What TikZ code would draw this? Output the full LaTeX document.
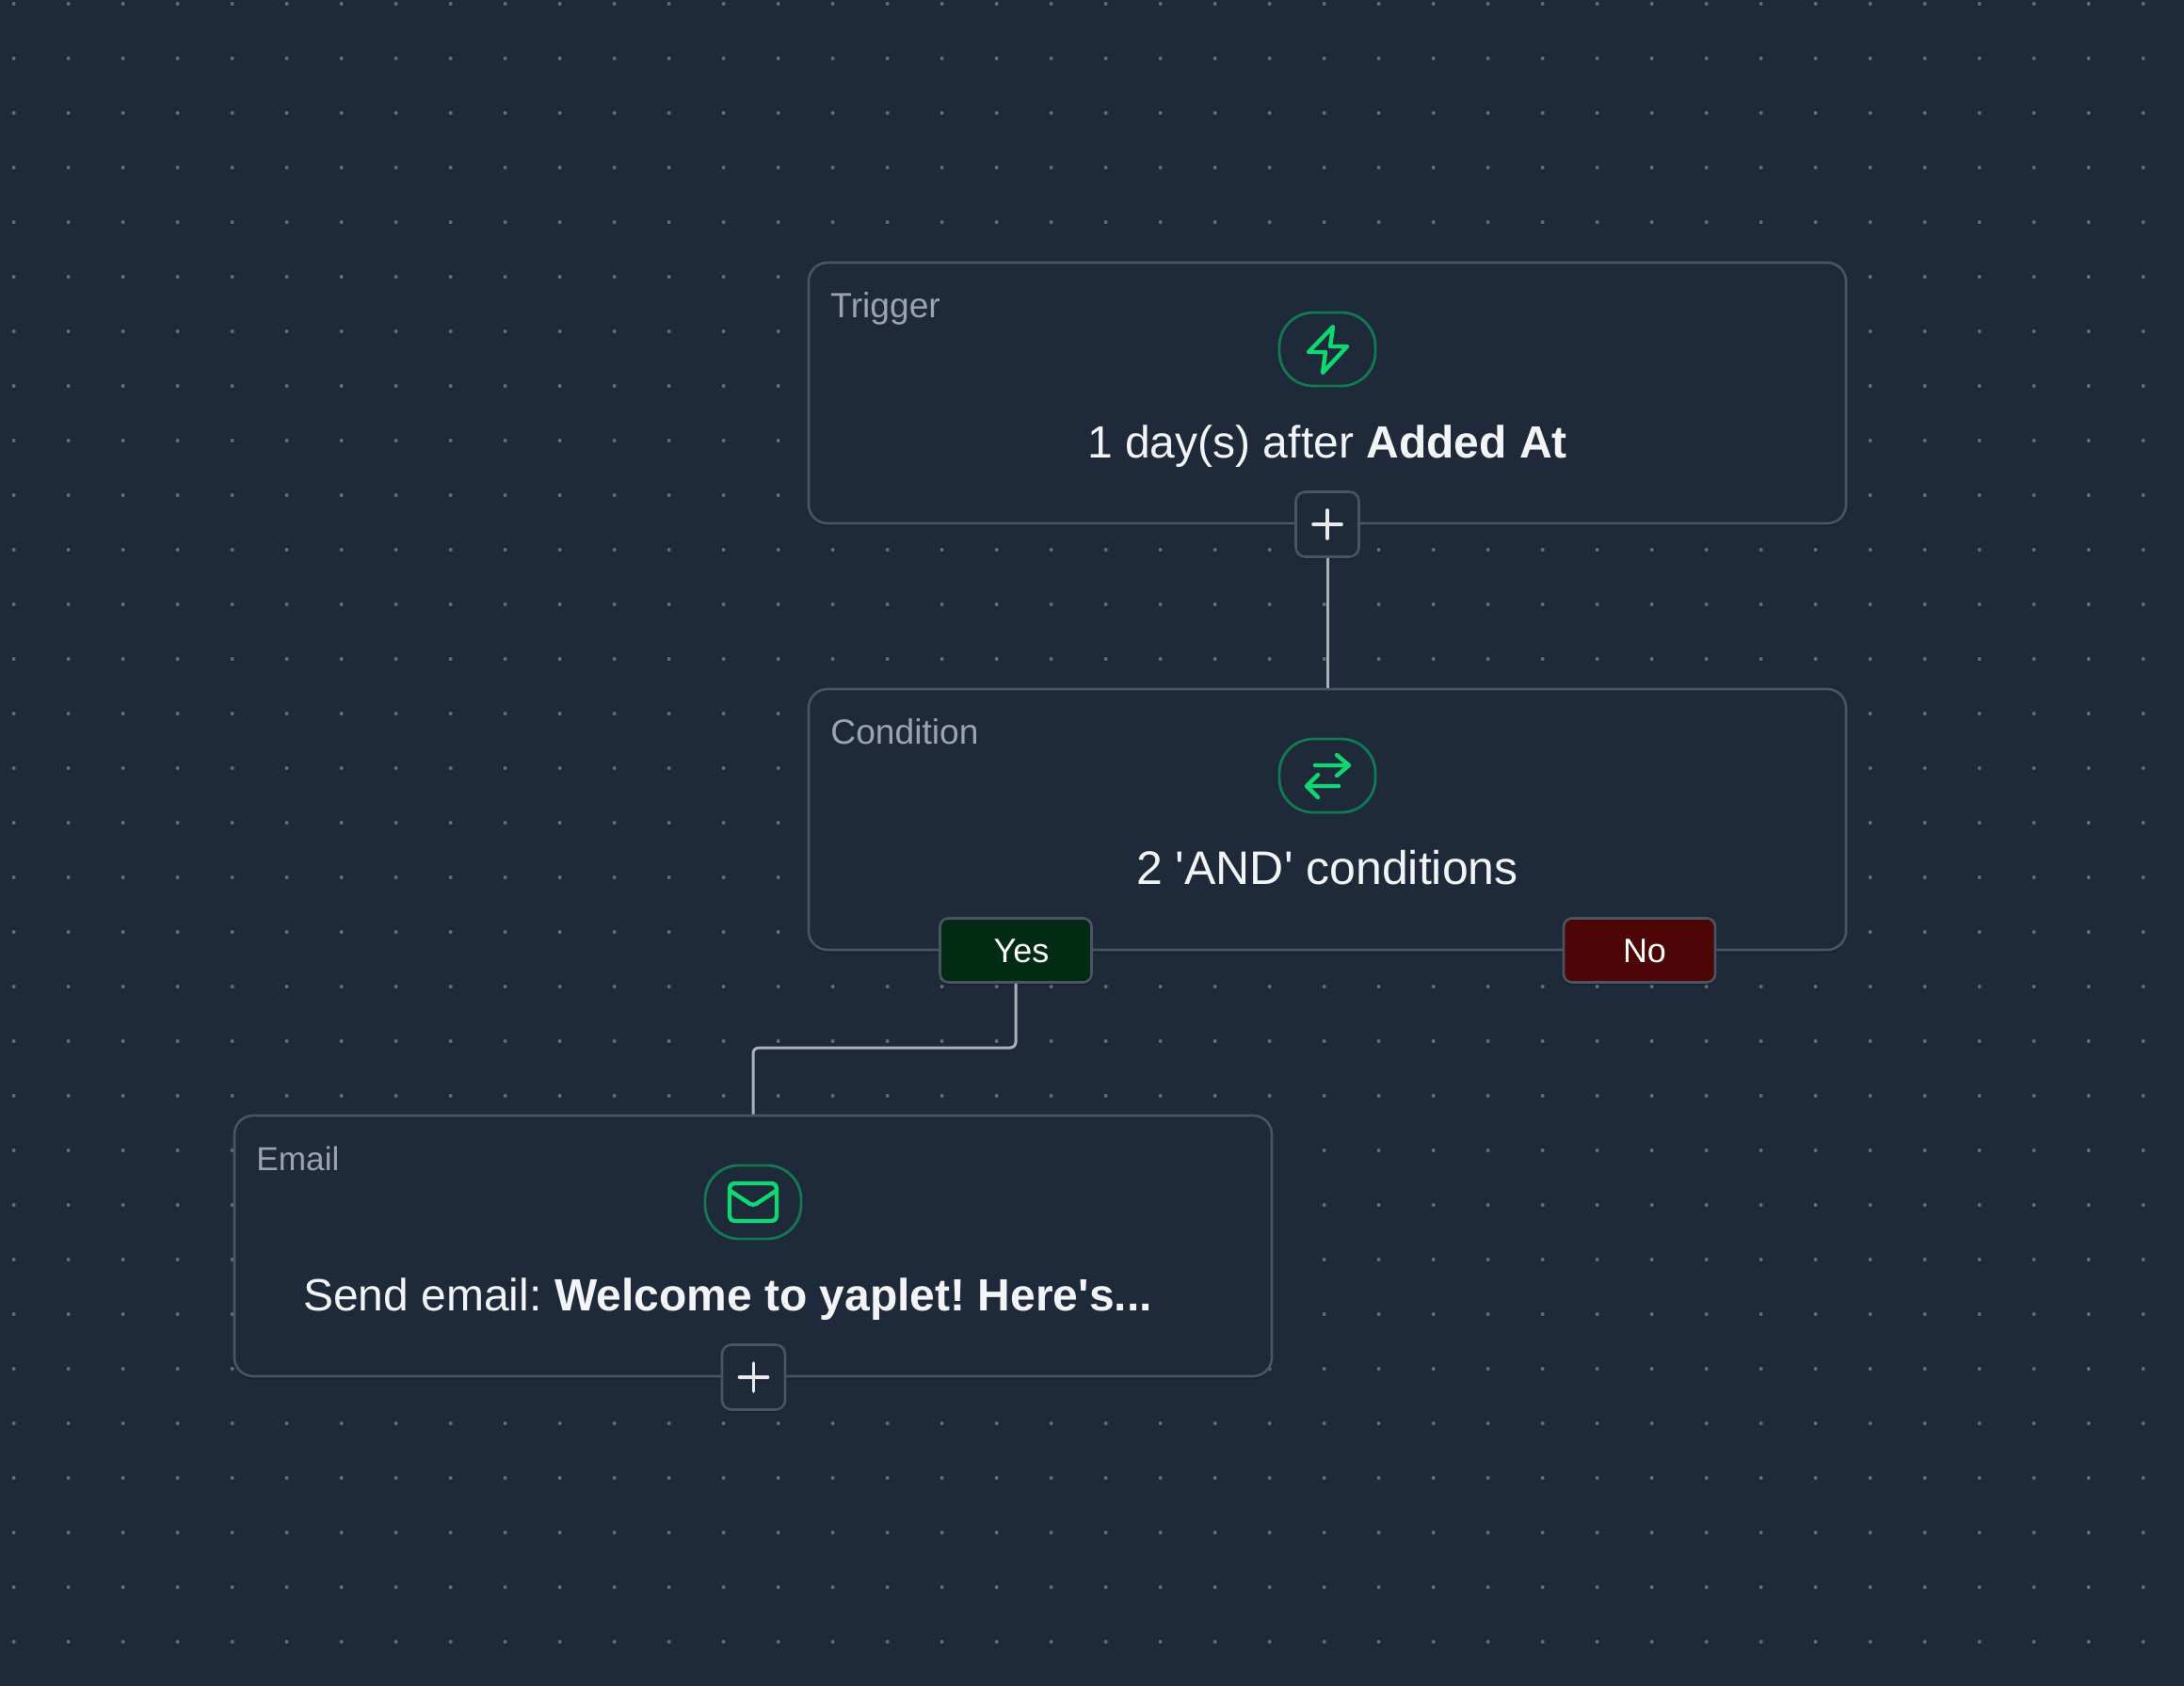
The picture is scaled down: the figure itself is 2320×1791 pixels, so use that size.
\documentclass[tikz,border=0pt]{standalone}
\usepackage{fontspec}
\usetikzlibrary{shadows}
\setmainfont{Liberation Sans}[Ligatures=TeXOff]
\definecolor{bgc}{HTML}{1E2939}
\definecolor{edgec}{HTML}{4A5462}
\definecolor{dotc}{HTML}{666C77}
\definecolor{wirec}{HTML}{ACB0B7}
\definecolor{labc}{HTML}{9CA3AF}
\definecolor{txtc}{HTML}{F3F4F6}
\definecolor{pillc}{HTML}{127A50}
\definecolor{iconc}{HTML}{0DD871}
\definecolor{yesc}{HTML}{032A12}
\definecolor{noc}{HTML}{4D0505}
\tikzset{
  x=0.5pt,y=-0.5pt,
  softshadow/.style={drop shadow={shadow xshift=0pt,shadow yshift=-1.5pt,opacity=0.18,fill=black}},
  card/.style={draw=edgec,fill=bgc,line width=1.3pt,rounded corners=10pt,minimum width=551pt,minimum height=138.5pt,inner sep=0pt,softshadow},
  pill/.style={draw=pillc,fill=bgc,line width=1.4pt,rounded corners=18pt,minimum width=51pt,minimum height=39pt,inner sep=0pt},
  plusbox/.style={draw=edgec,fill=bgc,line width=1.3pt,rounded corners=5pt,minimum width=33.5pt,minimum height=34.5pt,inner sep=0pt,softshadow},
  branch/.style={draw=edgec,line width=1.3pt,rounded corners=4.5pt,minimum width=80.5pt,minimum height=34pt,inner sep=0pt,softshadow},
  branchtext/.style={inner sep=0pt,text=white,font=\fontsize{18}{20}\selectfont},
  cardlabel/.style={anchor=base west,inner sep=0pt,text=labc,font=\fontsize{18.6}{20}\selectfont},
  maintext/.style={anchor=base,inner sep=0pt,text=txtc,font=\fontsize{24}{28}\selectfont\frenchspacing},
  wire/.style={draw=wirec,line width=1.5pt},
  icon/.style={draw=iconc,line width=2.2pt,line cap=round,line join=round},
  plusmark/.style={draw=white!92!black,line width=1.8pt,line cap=round}
}
\newcommand{\pluscross}[2]{\draw[plusmark] (#1-15,#2)--(#1+15,#2) (#1,#2-15)--(#1,#2+15);}
\begin{document}
\begin{tikzpicture}
\useasboundingbox (0,0) rectangle (2320,1791);
\fill[bgc] (0,0) rectangle (2320,1791);
\foreach \i in {0,...,39}{\foreach \j in {0,...,30}{
  \fill[dotc] ({14.67+58*\i},{4+58*\j}) circle (2);
}}
\node[card] (trigger) at (1410,417.5) {};
\node[card] (cond) at (1410,870.5) {};
\node[card] (email) at (800,1323.5) {};
\node[plusbox] (plusa) at (1410,557) {};
\node[plusbox] (plusb) at (800.5,1463) {};
\node[branch,fill=yesc] (yes) at (1079,1009.5) {};
\node[branch,fill=noc] (no) at (1741.5,1009.5) {};
\draw[wire] (plusa.south) -- (cond.north);
\draw[wire,rounded corners=3pt] (yes.south) |- (800,1113) -- (email.north);
\node[cardlabel] (tlab) at (882,338) {Trigger};
\node[cardlabel] (clab) at (882,791) {Condition};
\node[cardlabel,font=\fontsize{17.6}{20}\selectfont] (elab) at (272,1243) {Email};
\node[pill] (pa) at (1410,371) {};
\node[pill] (pb) at (1410,824) {};
\node[pill] (pc) at (800,1277) {};
\node[maintext] (ta) at (1410,486.5) {1 day(s) after \textbf{Added At}};
\node[maintext,font=\fontsize{25}{28}\selectfont] (tb) at (1410,939.5) {2 'AND' conditions};
\node[maintext] (tc) at (773,1392) {Send email: \textbf{Welcome to yaplet! Here's...}};
\node[branchtext] (yl) at (1085,1010) {Yes};
\node[branchtext] (nl) at (1747,1010) {No};
\pluscross{1410}{557}
\pluscross{800.5}{1463}
% zap icon
\draw[icon] (1416,347)--(1390,374)--(1408,374)--(1405,396)--(1431,368)--(1413,368)--cycle;
% arrows icon
\draw[icon] (1420,802)--(1433,813)--(1420,824) (1433,813)--(1397,813)
            (1400,823)--(1388,835)--(1400,847) (1388,835)--(1422,835);
% mail icon
\begin{scope}[shift={(770,1247)},x=1.25pt,y=-1.25pt]
\draw[icon,rounded corners=2.5pt] (2,4) rectangle (22,20);
\draw[icon,rounded corners=2pt] (22,7)--(12,13.6)--(2,7);
\end{scope}
\end{tikzpicture}
\end{document}
